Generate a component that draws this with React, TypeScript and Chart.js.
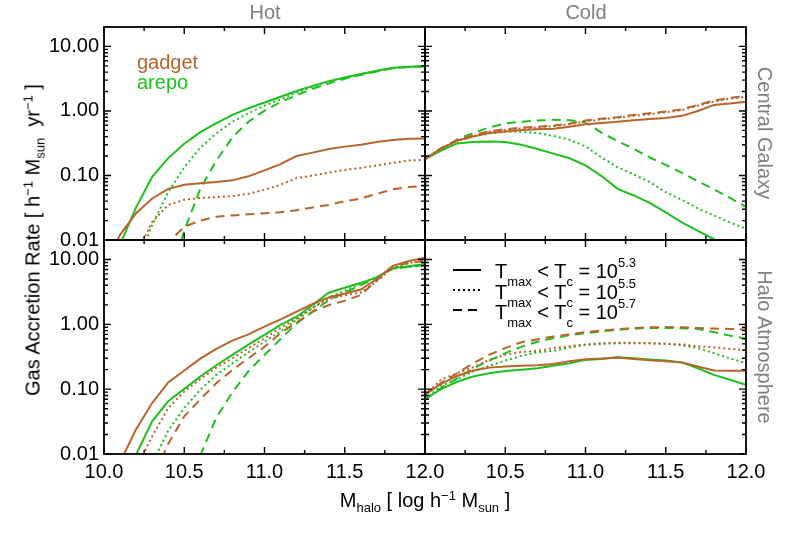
import React, { useEffect, useRef } from "react";
import { Chart, registerables } from "chart.js";
Chart.register(...registerables);

// ---------- data ----------
const haloMass = [10.0, 10.1, 10.2, 10.3, 10.4, 10.5, 10.6, 10.7, 10.8, 10.9, 11.0, 11.1, 11.2, 11.3, 11.4, 11.5, 11.6, 11.7, 11.8, 11.9, 12.0];

// Hot / Central Galaxy
const hotCentralGadget53 = [0.004, 0.012, 0.026, 0.044, 0.062, 0.072, 0.076, 0.079, 0.084, 0.097, 0.12, 0.15, 0.2, 0.226, 0.257, 0.28, 0.3, 0.33, 0.354, 0.37, 0.375];
const hotCentralGadget55 = [0.002, 0.003, 0.006, 0.019, 0.035, 0.042, 0.045, 0.046, 0.048, 0.052, 0.06, 0.072, 0.091, 0.1, 0.111, 0.122, 0.131, 0.143, 0.157, 0.17, 0.176];
const hotCentralGadget57 = [0.001, 0.001, 0.002, 0.004, 0.0092, 0.016, 0.02, 0.023, 0.024, 0.025, 0.026, 0.027, 0.029, 0.032, 0.035, 0.04, 0.044, 0.052, 0.061, 0.066, 0.069];
const hotCentralArepo53 = [0.002, 0.0085, 0.032, 0.095, 0.186, 0.31, 0.47, 0.65, 0.87, 1.1, 1.35, 1.66, 2.04, 2.45, 2.9, 3.31, 3.75, 4.19, 4.67, 4.84, 4.92];
const hotCentralArepo55 = [0.001, 0.001, 0.004, 0.017, 0.055, 0.134, 0.27, 0.45, 0.68, 0.92, 1.21, 1.51, 1.92, 2.38, 2.85, 3.28, 3.72, 4.15, 4.6, 4.82, 4.9];
const hotCentralArepo57 = [0.001, 0.001, 0.001, 0.001, 0.002, 0.014, 0.062, 0.17, 0.39, 0.68, 1.01, 1.37, 1.76, 2.21, 2.67, 3.15, 3.62, 4.1, 4.6, 4.82, 4.9];

// Cold / Central Galaxy
const coldCentralGadget53 = [0.18, 0.26, 0.345, 0.4, 0.455, 0.48, 0.505, 0.52, 0.53, 0.57, 0.62, 0.65, 0.68, 0.72, 0.75, 0.78, 0.84, 1.0, 1.24, 1.31, 1.39];
const coldCentralGadget55 = [0.18, 0.262, 0.35, 0.41, 0.475, 0.51, 0.535, 0.555, 0.58, 0.62, 0.69, 0.74, 0.78, 0.84, 0.89, 0.95, 1.03, 1.2, 1.4, 1.55, 1.66];
const coldCentralGadget57 = [0.18, 0.265, 0.355, 0.42, 0.485, 0.52, 0.55, 0.57, 0.595, 0.635, 0.71, 0.76, 0.8, 0.865, 0.92, 0.98, 1.06, 1.24, 1.45, 1.6, 1.71];
const coldCentralArepo53 = [0.18, 0.243, 0.314, 0.33, 0.337, 0.33, 0.3, 0.257, 0.218, 0.185, 0.143, 0.098, 0.062, 0.049, 0.0375, 0.0267, 0.0187, 0.0139, 0.0103, 0.0075, 0.0055];
const coldCentralArepo55 = [0.18, 0.26, 0.345, 0.4, 0.448, 0.475, 0.475, 0.455, 0.41, 0.358, 0.283, 0.19, 0.134, 0.104, 0.079, 0.055, 0.042, 0.031, 0.024, 0.0187, 0.015];
const coldCentralArepo57 = [0.18, 0.26, 0.36, 0.455, 0.555, 0.64, 0.68, 0.71, 0.73, 0.72, 0.66, 0.46, 0.34, 0.26, 0.19, 0.146, 0.11, 0.081, 0.061, 0.045, 0.0326];

// Hot / Halo Atmosphere
const hotHaloGadget53 = [0.002, 0.0075, 0.024, 0.061, 0.127, 0.194, 0.296, 0.418, 0.56, 0.7, 0.92, 1.19, 1.57, 2.06, 2.6, 3.0, 3.45, 5.0, 8.0, 9.5, 10.7];
const hotHaloGadget55 = [0.001, 0.002, 0.006, 0.0187, 0.051, 0.092, 0.143, 0.215, 0.3, 0.43, 0.61, 0.88, 1.22, 1.8, 2.45, 2.8, 3.1, 4.6, 7.6, 8.8, 9.8];
const hotHaloGadget57 = [0.001, 0.001, 0.002, 0.004, 0.0144, 0.038, 0.07, 0.124, 0.198, 0.3, 0.45, 0.73, 1.07, 1.57, 1.98, 2.31, 2.83, 4.8, 7.9, 8.9, 9.5];
const hotHaloArepo53 = [0.001, 0.003, 0.0098, 0.032, 0.065, 0.101, 0.157, 0.234, 0.337, 0.486, 0.69, 0.98, 1.31, 2.0, 3.07, 3.66, 4.37, 5.3, 7.4, 7.9, 8.5];
const hotHaloArepo55 = [0.001, 0.001, 0.002, 0.007, 0.023, 0.051, 0.098, 0.166, 0.25, 0.37, 0.54, 0.78, 1.17, 1.8, 2.6, 3.3, 4.2, 5.4, 7.2, 7.7, 8.2];
const hotHaloArepo57 = [0.001, 0.001, 0.001, 0.001, 0.001, 0.003, 0.0095, 0.0366, 0.089, 0.19, 0.337, 0.594, 1.03, 1.57, 2.35, 3.1, 4.0, 5.3, 7.27, 7.7, 8.2];

// Cold / Halo Atmosphere
const coldHaloGadget53 = [0.082, 0.121, 0.16, 0.194, 0.215, 0.223, 0.229, 0.234, 0.245, 0.27, 0.29, 0.296, 0.307, 0.293, 0.28, 0.27, 0.259, 0.223, 0.194, 0.192, 0.192];
const coldHaloGadget55 = [0.082, 0.14, 0.176, 0.218, 0.283, 0.34, 0.374, 0.39, 0.43, 0.46, 0.49, 0.51, 0.52, 0.52, 0.51, 0.5, 0.49, 0.46, 0.44, 0.42, 0.4];
const coldHaloGadget57 = [0.082, 0.124, 0.176, 0.25, 0.34, 0.43, 0.53, 0.59, 0.65, 0.7, 0.76, 0.8, 0.84, 0.88, 0.9, 0.91, 0.9, 0.88, 0.86, 0.85, 0.84];
const coldHaloArepo53 = [0.07, 0.1, 0.13, 0.157, 0.176, 0.191, 0.2, 0.21, 0.229, 0.25, 0.283, 0.293, 0.31, 0.3, 0.287, 0.276, 0.259, 0.21, 0.166, 0.14, 0.117];
const coldHaloArepo55 = [0.07, 0.112, 0.143, 0.187, 0.229, 0.276, 0.326, 0.37, 0.39, 0.44, 0.48, 0.5, 0.51, 0.51, 0.51, 0.5, 0.475, 0.43, 0.36, 0.3, 0.25];
const coldHaloArepo57 = [0.07, 0.104, 0.147, 0.21, 0.276, 0.36, 0.45, 0.54, 0.61, 0.68, 0.73, 0.78, 0.82, 0.86, 0.88, 0.88, 0.87, 0.85, 0.76, 0.67, 0.6];

// ticks
const xMajorTicks = [10, 10.5, 11, 11.5, 12];
const xMinorTicks = [10.25, 10.75, 11.25, 11.75];
const xLabelsLeft = [10, 10.5, 11, 11.5, 12];
const xLabelsRight = [10.5, 11, 11.5, 12];
const yLabelTicks = [0.01, 0.1, 1, 10];
const yMinorTicks = [0.02, 0.03, 0.04, 0.05, 0.06, 0.07, 0.08, 0.09, 0.2, 0.3, 0.4, 0.5, 0.6, 0.7, 0.8, 0.9, 2, 3, 4, 5, 6, 7, 8, 9];
const xMin = 10, xMax = 12, yMin = 0.01, yMax = 20;

// ---------- style ----------
const FONT = '"Liberation Sans", Arial, Helvetica, sans-serif';
const BROWN = "#b8642a";
const GREEN = "#1ec01e";
const GRAY = "#808080";
const DOT = [2, 3];
const DASH = [9, 6];

const frameTicks = {
  id: "frameTicks",
  afterDatasetsDraw(chart: any) {
    const { ctx, chartArea: a, scales } = chart;
    const xs = scales.x, ys = scales.y;
    ctx.save();
    ctx.strokeStyle = "#000";
    ctx.lineWidth = 1.4;
    ctx.beginPath();
    const xt = (v: number, len: number) => {
      const p = xs.getPixelForValue(v);
      ctx.moveTo(p, a.bottom); ctx.lineTo(p, a.bottom - len);
      ctx.moveTo(p, a.top); ctx.lineTo(p, a.top + len);
    };
    const yt = (v: number, len: number) => {
      const p = ys.getPixelForValue(v);
      ctx.moveTo(a.left, p); ctx.lineTo(a.left + len, p);
      ctx.moveTo(a.right, p); ctx.lineTo(a.right - len, p);
    };
    xMajorTicks.forEach((v) => xt(v, 7));
    xMinorTicks.forEach((v) => xt(v, 4));
    yLabelTicks.forEach((v) => yt(v, 7));
    yMinorTicks.forEach((v) => yt(v, 4));
    ctx.stroke();
    ctx.lineWidth = 1.8;
    ctx.strokeRect(a.left, a.top, a.right - a.left, a.bottom - a.top);
    ctx.restore();
  },
};

type Panel = {
  gadget: number[][];
  arepo: number[][];
  showX: boolean;
  showY: boolean;
  xLabels: number[];
  padding: { left: number; top: number; right: number; bottom: number };
};

const dashes = [[], DOT, DASH];

function makeConfig(p: Panel): any {
  const ds: any[] = [];
  const add = (vals: number[], color: string, dash: number[]) =>
    ds.push({
      data: haloMass.map((x, i) => ({ x, y: vals[i] })),
      borderColor: color,
      borderWidth: 2,
      borderDash: dash,
      pointRadius: 0,
      fill: false,
      tension: 0,
    });
  p.gadget.forEach((v, i) => add(v, BROWN, dashes[i]));
  p.arepo.forEach((v, i) => add(v, GREEN, dashes[i]));
  return {
    type: "line",
    data: { datasets: ds },
    options: {
      animation: false,
      responsive: false,
      events: [],
      layout: { padding: p.padding },
      plugins: { legend: { display: false }, tooltip: { enabled: false } },
      scales: {
        x: {
          type: "linear",
          min: xMin,
          max: xMax,
          display: p.showX,
          grid: { display: false, drawTicks: false },
          border: { display: false },
          ticks: {
            autoSkip: false,
            maxRotation: 0,
            padding: 6,
            color: "#000",
            font: { family: FONT, size: 20 },
            callback: (v: any) => Number(v).toFixed(1),
          },
          afterBuildTicks: (s: any) => {
            s.ticks = p.xLabels.map((v) => ({ value: v }));
          },
          afterFit: (s: any) => {
            s.height = p.showX ? 30 : 0;
          },
        },
        y: {
          type: "logarithmic",
          min: yMin,
          max: yMax,
          display: p.showY,
          grid: { display: false, drawTicks: false },
          border: { display: false },
          ticks: {
            autoSkip: false,
            padding: 5,
            color: "#000",
            font: { family: FONT, size: 20 },
            callback: (v: any) => Number(v).toFixed(2),
          },
          afterBuildTicks: (s: any) => {
            s.ticks = yLabelTicks.map((v) => ({ value: v }));
          },
          afterFit: (s: any) => {
            s.width = p.showY ? 70 : 0;
          },
        },
      },
    },
    plugins: [frameTicks],
  };
}

const panels: Panel[] = [
  {
    gadget: [hotCentralGadget53, hotCentralGadget55, hotCentralGadget57],
    arepo: [hotCentralArepo53, hotCentralArepo55, hotCentralArepo57],
    showX: false, showY: true, xLabels: xLabelsLeft,
    padding: { left: 34, top: 27, right: 378, bottom: 295 },
  },
  {
    gadget: [coldCentralGadget53, coldCentralGadget55, coldCentralGadget57],
    arepo: [coldCentralArepo53, coldCentralArepo55, coldCentralArepo57],
    showX: false, showY: false, xLabels: xLabelsRight,
    padding: { left: 425, top: 27, right: 57, bottom: 295 },
  },
  {
    gadget: [hotHaloGadget53, hotHaloGadget55, hotHaloGadget57],
    arepo: [hotHaloArepo53, hotHaloArepo55, hotHaloArepo57],
    showX: true, showY: true, xLabels: xLabelsLeft,
    padding: { left: 34, top: 240, right: 378, bottom: 51 },
  },
  {
    gadget: [coldHaloGadget53, coldHaloGadget55, coldHaloGadget57],
    arepo: [coldHaloArepo53, coldHaloArepo55, coldHaloArepo57],
    showX: true, showY: false, xLabels: xLabelsRight,
    padding: { left: 425, top: 240, right: 57, bottom: 51 },
  },
];

function PanelCanvas({ panel }: { panel: Panel }) {
  const ref = useRef<HTMLCanvasElement>(null);
  useEffect(() => {
    const chart = new Chart(ref.current as HTMLCanvasElement, makeConfig(panel));
    return () => chart.destroy();
  }, []);
  return <canvas ref={ref} width={803} height={535} style={{ position: "absolute", left: 0, top: 0 }} />;
}

const Sub = ({ children, dy = 5 }: any) => (
  <span style={{ fontSize: 13, position: "relative", top: dy }}>{children}</span>
);
const Sup = ({ children, dy = -7 }: any) => (
  <span style={{ fontSize: 13, position: "relative", top: dy }}>{children}</span>
);

const Centered = ({ x, y, rotate = 0, color = "#000", children }: any) => (
  <div
    style={{
      position: "absolute",
      left: x,
      top: y,
      transform: `translate(-50%, -50%) rotate(${rotate}deg)`,
      whiteSpace: "nowrap",
      fontFamily: FONT,
      fontSize: 20,
      lineHeight: "20px",
      color,
    }}
  >
    {children}
  </div>
);

const LeftText = ({ x, y, color = "#000", children }: any) => (
  <div
    style={{
      position: "absolute",
      left: x,
      top: y,
      whiteSpace: "nowrap",
      fontFamily: FONT,
      fontSize: 20,
      lineHeight: "20px",
      color,
    }}
  >
    {children}
  </div>
);

const legendRows = [
  { label: "5.3", dash: "" },
  { label: "5.5", dash: "2 3" },
  { label: "5.7", dash: "9 6" },
];

export default function App() {
  return (
    <div style={{ position: "fixed", left: 0, top: 0, width: 803, height: 535, background: "#fff", overflow: "hidden" }}>
      {panels.map((p, i) => (
        <PanelCanvas key={i} panel={p} />
      ))}
      <Centered x={265} y={11.5} color={GRAY}>Hot</Centered>
      <Centered x={586} y={11.5} color={GRAY}>Cold</Centered>
      <Centered x={765} y={133} rotate={90} color={GRAY}>Central Galaxy</Centered>
      <Centered x={765} y={347} rotate={90} color={GRAY}>Halo Atmosphere</Centered>
      <Centered x={33.5} y={240} rotate={-90}>
        Gas Accretion Rate [ h<Sup>−1</Sup> M<Sub>sun</Sub>&nbsp; yr<Sup>−1</Sup> ]
      </Centered>
      <Centered x={425} y={500.5}>
        M<Sub>halo</Sub> [ log h<Sup>−1</Sup> M<Sub>sun</Sub> ]
      </Centered>
      <LeftText x={137} y={51.8} color={BROWN}>gadget</LeftText>
      <LeftText x={137} y={71.8} color={GREEN}>arepo</LeftText>
      {legendRows.map((r, i) => (
        <React.Fragment key={i}>
          <svg
            width={30}
            height={6}
            style={{ position: "absolute", left: 452, top: 266.5 + i * 20.3 }}
          >
            <line x1={1} y1={3} x2={29} y2={3} stroke="#000" strokeWidth={2} strokeDasharray={r.dash || undefined} />
          </svg>
          <LeftText x={495} y={261.4 + i * 20.3}>
            T<Sub dy={8}>max</Sub> &lt; T<Sub dy={8}>c</Sub> = 10<Sup dy={-11}>{r.label}</Sup>
          </LeftText>
        </React.Fragment>
      ))}
    </div>
  );
}
